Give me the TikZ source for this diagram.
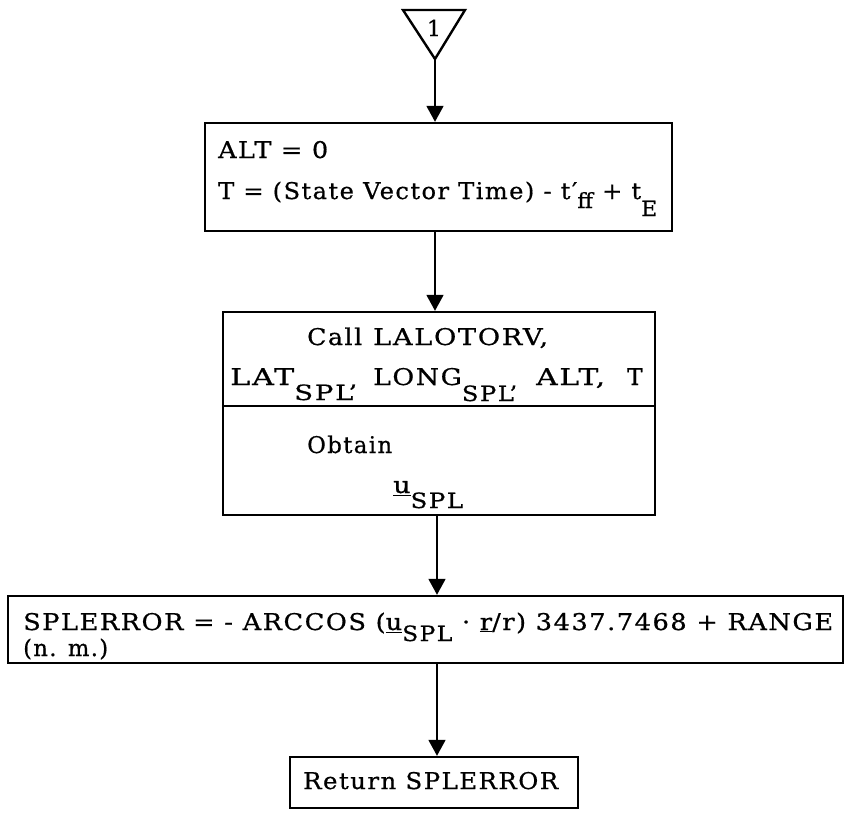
\documentclass[tikz,border=0pt]{standalone}
\usepackage{fontspec}
\usepackage{graphicx}
\setmainfont{DejaVu Serif}[LetterSpace=6, FakeBold=0.6]
\usetikzlibrary{arrows.meta}
\newcommand{\sbx}[2][12pt]{\raisebox{-#1}{\fontsize{21}{21}\selectfont #2}}
\newcommand{\fitw}[2]{\resizebox{#1}{\height}{#2}}
\begin{document}
\begin{tikzpicture}[x=1pt,y=-1pt,
  box/.style={draw, line width=2.4pt, inner sep=0pt},
  conn/.style={line width=1.8pt, -{Triangle[width=17pt,length=16pt]}},
  txt/.style={inner sep=0pt, anchor=base west, font=\fontsize{23}{25}\selectfont}]
\useasboundingbox (0,0) rectangle (852,819);
% entry connector
\coordinate (tl) at (403,10);
\coordinate (tr) at (465,10);
\coordinate (ta) at (435,59);
\draw[line width=2.4pt, line join=miter] (tl) -- (tr) -- (ta) -- cycle;
\node[inner sep=0pt, anchor=base, font=\fontsize{22}{22}\selectfont] (n1) at (434,36) {1};
\coordinate (ax) at (437,0);
% box 1
\node[box, minimum width=467pt, minimum height=108pt] (b1) at (438.5,177) {};
\node[txt] (t1a) at (218,158) {\fitw{110pt}{ALT = 0}};
\node[txt] (t1b) at (218,199) {\fitw{439pt}{T = (State Vector Time) - t′\sbx[9pt]{ff} + t\sbx[17pt]{E}}};
% box 2
\node[box, minimum width=432pt, minimum height=203pt] (b2) at (439,413.5) {};
\coordinate (div) at (0,406);
\draw[line width=2.4pt] (b2.west |- div) -- (b2.east |- div);
\node[txt] (t2a) at (307,345) {\makebox[66pt][l]{\fitw{55pt}{Call}}\fitw{175pt}{LALOTORV,}};
\node[txt] (t2b) at (230,385) {\makebox[143pt][l]{\fitw{127pt}{LAT\sbx[15pt]{SPL’}}}\makebox[163pt][l]{\fitw{144pt}{LONG\sbx[16pt]{SPL’}}}\makebox[91pt][l]{\fitw{69pt}{ALT,}}T};
\node[txt] (t2c) at (307,453) {\fitw{85pt}{Obtain}};
\node[txt] (t2d) at (393,493) {\fitw{70pt}{\underline{u}\sbx[15pt]{SPL}}};
% box 3
\node[box, minimum width=835pt, minimum height=67pt] (b3) at (425.5,629.5) {};
\node[txt] (t3a) at (23,630) {\fitw{810pt}{SPLERROR = - ARCCOS (\underline{u}\sbx[11pt]{SPL} · \underline{r}/r) 3437.7468 + RANGE}};
\node[txt] (t3b) at (23,656) {\fitw{85pt}{(n. m.)}};
% box 4
\node[box, minimum width=288pt, minimum height=51pt] (b4) at (434,782.5) {};
\node[txt] (t4) at (303,789) {\fitw{255pt}{Return SPLERROR}};
% connectors
\draw[conn] (ta) -- (ta |- b1.north);
\draw[conn] (b1.south -| ta) -- (b2.north -| ta);
\draw[conn] (b2.south -| ax) -- (b3.north -| ax);
\draw[conn] (b3.south -| ax) -- (b4.north -| ax);
\end{tikzpicture}
\end{document}
